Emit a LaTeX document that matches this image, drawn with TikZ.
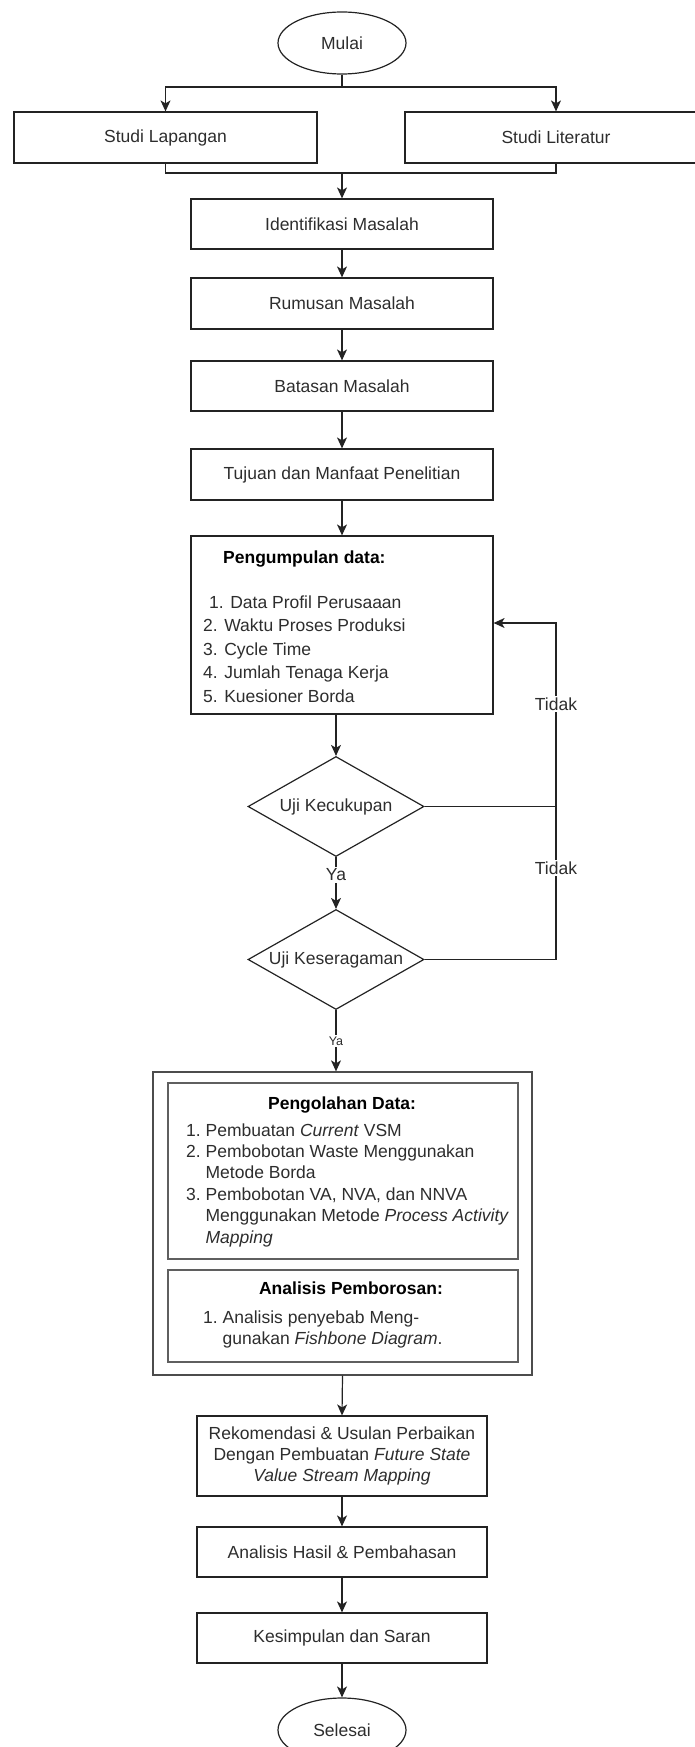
\documentclass[tikz,border=0pt]{standalone}
\usepackage{fontspec}
\setmainfont{Liberation Sans}
\usetikzlibrary{shapes.geometric,arrows.meta}
\definecolor{linec}{RGB}{35,35,35}
\definecolor{txtc}{RGB}{45,45,45}
\definecolor{innerc}{RGB}{95,95,95}
\newcommand\myfs{\fontsize{17.5pt}{21.4pt}\selectfont}
\newcommand\myfsl{\fontsize{17.5pt}{23.5pt}\selectfont}
\begin{document}
\begin{tikzpicture}[x=1pt,y=-1pt,
  every node/.style={text=txtc},
  box/.style={draw=linec, line width=1.2pt, rectangle, inner sep=0pt, font=\myfs, align=center},
  ell/.style={draw=linec, line width=1.2pt, ellipse, inner sep=0pt, font=\myfs},
  dia/.style={draw=linec, line width=1.2pt, diamond, shape aspect=1.78, inner sep=0pt, font=\myfs, minimum width=176pt, minimum height=100pt},
  conn/.style={draw=linec, line width=1.2pt},
  arr/.style={conn, -{Stealth[length=11pt,width=10pt,inset=3pt]}},
  lbl/.style={fill=white, inner sep=1.5pt, font=\myfs},
  ttl/.style={font=\bfseries\myfs, text=black, inner sep=0pt}
]
\useasboundingbox (0,0) rectangle (694,1747);

% nodes
\node[ell, minimum width=128pt, minimum height=62pt] (mulai) at (342,43) {Mulai};
\node[box, minimum width=303pt, minimum height=51pt] (lap) at (165.5,137.5) {Studi Lapangan};
\node[box, minimum width=302pt, minimum height=51pt] (lit) at (556,137.5) {Studi Literatur};
\node[box, minimum width=302pt, minimum height=50pt] (ident) at (342,224) {Identifikasi Masalah};
\node[box, minimum width=302pt, minimum height=51pt] (rumus) at (342,303.5) {Rumusan Masalah};
\node[box, minimum width=302pt, minimum height=50pt] (batas) at (342,386) {Batasan Masalah};
\node[box, minimum width=302pt, minimum height=51pt] (tujuan) at (342,474.5) {Tujuan dan Manfaat Penelitian};
\node[box, minimum width=302pt, minimum height=178pt] (kumpul) at (342,625) {};
\node[ttl, anchor=base west] (kumpulT) at (223,563) {Pengumpulan data:};
\node[anchor=base west, inner sep=0pt, font=\myfsl] (kumpulL) at (203,608)
  {\begin{tabular}[t]{@{}l@{}}\hspace{6pt}1. Data Profil Perusaaan\\2. Waktu Proses Produksi\\3. Cycle Time\\4. Jumlah Tenaga Kerja\\5. Kuesioner Borda\end{tabular}};

\node[dia] (d1) at (336,806.5) {Uji Kecukupan};
\node[dia] (d2) at (336,959.5) {Uji Keseragaman};

\node[draw=innerc!80!black, line width=1.3pt, rectangle, minimum width=379pt, minimum height=303pt, inner sep=0pt] (outer) at (342.5,1223.5) {};
\node[draw=innerc, line width=1.6pt, rectangle, minimum width=350pt, minimum height=176pt, inner sep=0pt] (olah) at (343,1171) {};
\node[draw=innerc, line width=1.6pt, rectangle, minimum width=350pt, minimum height=92pt, inner sep=0pt] (anal) at (343,1316) {};
\node[ttl, anchor=base] (olahT) at (342,1109) {Pengolahan Data:};
\node[anchor=base west, inner sep=0pt, font=\myfs] (olahL) at (186,1136)
  {\begin{tabular}[t]{@{}l@{\ }l@{}}1.&Pembuatan \textit{Current} VSM\\2.&Pembobotan Waste Menggunakan\\&Metode Borda\\3.&Pembobotan VA, NVA, dan NNVA\\&Menggunakan Metode \textit{Process Activity}\\&\textit{Mapping}\end{tabular}};
\node[ttl, anchor=base] (analT) at (351,1294) {Analisis Pemborosan:};
\node[anchor=base west, inner sep=0pt, font=\myfs] (analL) at (203,1323)
  {\begin{tabular}[t]{@{}l@{\ }l@{}}1.&Analisis penyebab Meng-\\&gunakan \textit{Fishbone Diagram}.\end{tabular}};

\node[box, minimum width=290pt, minimum height=80pt] (rekom) at (342,1456)
  {Rekomendasi \& Usulan Perbaikan\\Dengan Pembuatan \textit{Future State}\\\textit{Value Stream Mapping}};
\node[box, minimum width=290pt, minimum height=50pt] (hasil) at (342,1552) {Analisis Hasil \& Pembahasan};
\node[box, minimum width=290pt, minimum height=50pt] (simpul) at (342,1638) {Kesimpulan dan Saran};
\node[ell, minimum width=128pt, minimum height=64pt] (selesai) at (342,1730) {Selesai};

% connectors
\coordinate (s1) at (342,87);
\draw[conn] (mulai.south) -- (s1);
\draw[arr] (s1) -| (lap.north);
\draw[arr] (s1) -| (lit.north);
\coordinate (j1) at (342,173);
\draw[conn] (lap.south) |- (j1);
\draw[conn] (lit.south) |- (j1);
\draw[arr] (j1) -- (ident.north);
\draw[arr] (ident.south) -- (rumus.north);
\draw[arr] (rumus.south) -- (batas.north);
\draw[arr] (batas.south) -- (tujuan.north);
\draw[arr] (tujuan.south) -- (kumpul.north);
\draw[arr] (d1.north |- kumpul.south) -- (d1.north);

\coordinate (fb1) at (556,806.5);
\coordinate (fb2) at (556,959.5);
\coordinate (fbtop) at (556,623);
\draw[conn] (d1.east) -- (fb1);
\draw[conn] (d2.east) -- (fb2) -- (fb1);
\draw[arr] (fb1) -- (fbtop) -- (fbtop -| kumpul.east);
\node[lbl] (tidak1) at (556,704) {Tidak};
\node[lbl] (tidak2) at (556,868) {Tidak};

\draw[arr] (d1.south) -- (d2.north);
\node[lbl] (ya1) at (336,875) {Ya};
\draw[arr] (d2.south) -- (d2.south |- outer.north);
\node[lbl, font=\fontsize{12.5pt}{14pt}\selectfont] (ya2) at (336,1041) {Ya};

\draw[arr] (outer.south) -- (rekom.north);
\draw[arr] (rekom.south) -- (hasil.north);
\draw[arr] (hasil.south) -- (simpul.north);
\draw[arr] (simpul.south) -- (selesai.north);
\end{tikzpicture}
\end{document}
